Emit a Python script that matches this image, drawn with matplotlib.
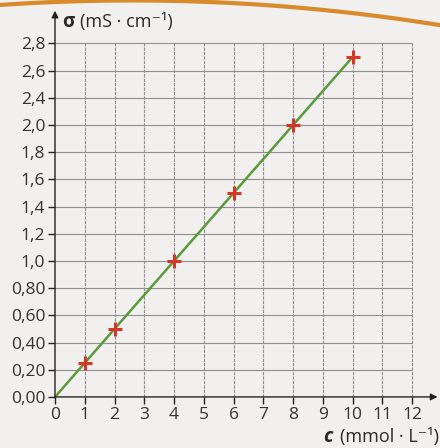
import numpy as np
import matplotlib.pyplot as plt

plt.rcParams['font.family'] = ['Open Sans', 'DejaVu Sans']

# data
c_vals = [1, 2, 4, 6, 8, 10]
sigma_vals = [0.25, 0.5, 1.0, 1.5, 2.0, 2.5]
fit_c = [0, 10]
fit_sigma = [0, 2.5]

x_ticks = list(range(0, 13))
y_ticks = [0.0, 0.2, 0.4, 0.6, 0.8, 1.0, 1.2, 1.4, 1.6, 1.8, 2.0, 2.2, 2.4, 2.6]
# labels as printed in the book (2,2 is missing there)
y_labels = ['0,00', '0,20', '0,40', '0,60', '0,80', '1,0', '1,2', '1,4',
            '1,6', '1,8', '2,0', '2,4', '2,6', '2,8']

bg = '#f1f0ee'
fig = plt.figure(figsize=(4.4, 4.48), dpi=100, facecolor=bg)
ax = fig.add_axes([0.125, 0.114, 0.866, 0.856])
ax.set_facecolor(bg)

ax.set_xlim(0, 12.8)
ax.set_ylim(0, 2.82)

# grid
ax.vlines(x_ticks[1:], 0, y_ticks[-1], color='#909090', lw=0.8,
          linestyles=(0, (3, 1)), zorder=1)
ax.hlines(y_ticks[1:], 0, x_ticks[-1], color='#909090', lw=0.8, zorder=1)

# fit line and measurements
ax.plot(fit_c, fit_sigma, color='#5a9a3c', lw=1.8, zorder=3)
ax.plot(c_vals, sigma_vals, '+', color='#d8352a', ms=10, mew=2.2, zorder=4)

# axes with arrows
for s in ['top', 'right', 'left', 'bottom']:
    ax.spines[s].set_visible(False)
ax.annotate('', xy=(12.85, 0), xytext=(0, 0),
            arrowprops=dict(arrowstyle='-|>', color='#222222', lw=1.0,
                            mutation_scale=10, shrinkA=0, shrinkB=0),
            annotation_clip=False)
ax.annotate('', xy=(0, 2.84), xytext=(0, 0),
            arrowprops=dict(arrowstyle='-|>', color='#222222', lw=1.0,
                            mutation_scale=10, shrinkA=0, shrinkB=0),
            annotation_clip=False)

ax.set_xticks(x_ticks)
ax.set_xticklabels([str(v) for v in x_ticks])
ax.set_yticks(y_ticks)
ax.set_yticklabels(y_labels)
ax.tick_params(axis='both', direction='out', length=5, width=1.0,
               color='#222222', labelsize=12.5, labelcolor='#333333', pad=2)

fig.text(0.141, 0.951, 'σ', fontsize=13.5, fontweight='bold', color='#2a2a2a',
         va='center')
fig.text(0.182, 0.951, '(mS · cm⁻¹)', fontsize=13, color='#2a2a2a',
         va='center')
fig.text(0.998, 0.025, '(mmol · L⁻¹)', fontsize=13, color='#2a2a2a',
         ha='right', va='center')
fig.text(0.755, 0.025, 'c', fontsize=14, fontweight='bold', style='italic',
         color='#2a2a2a', ha='right', va='center')

# orange decorative arc at the top of the page
t = np.linspace(0, 1, 50)
fig.add_artist(plt.Line2D(t, 0.999 - 0.1125 * (t - 0.3) ** 2, color='#d98a2a',
                          lw=3, transform=fig.transFigure))

fig.savefig('out.png', dpi=100, facecolor=bg)
